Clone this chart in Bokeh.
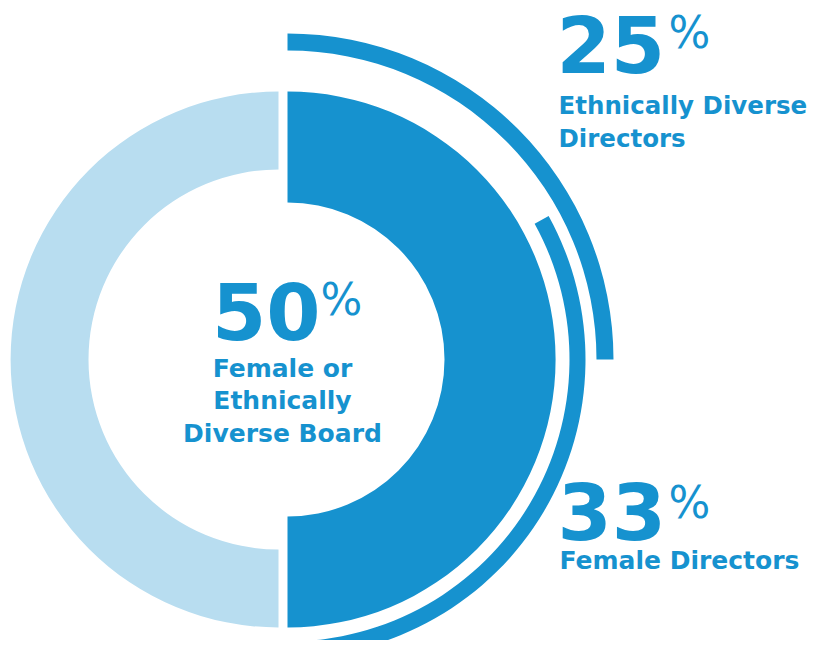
import math
from bokeh.plotting import figure
from bokeh.models import Range1d
from bokeh.core.properties import value
from bokeh.embed import file_html
from bokeh.resources import INLINE

# ---- data ----
metrics = ["Female or Ethnically Diverse Board", "Ethnically Diverse Directors", "Female Directors"]
percents = [50, 25, 33]
big_labels = ["50", "25", "33"]
center_lines = ["Female or", "Ethnically", "Diverse Board"]
ethnic_lines = ["Ethnically Diverse", "Directors"]
female_lines = ["Female Directors"]

DARK = "#1692CF"
LIGHT = "#B8DDF0"
FONT = value("DejaVu Sans")

W, H = 810, 640
p = figure(width=W, height=H, x_range=Range1d(0, W), y_range=Range1d(-H, 0),
           output_backend="svg", toolbar_location=None,
           x_axis_location=None, y_axis_location=None, min_border=0)
p.grid.visible = False
p.outline_line_color = None
p.background_fill_color = "white"
p.border_fill_color = "white"

cy = -359
cx_dark, cx_light = 287, 278
top = math.pi / 2
bottom = -math.pi / 2

board = percents[0] / 100.0
ethnic = percents[1] / 100.0
female = percents[2] / 100.0

# main donut halves
p.annular_wedge(x=[cx_light], y=[cy], inner_radius=190, outer_radius=268,
                start_angle=[top], end_angle=[top + 2 * math.pi * (1 - board)],
                fill_color=LIGHT, line_color=None)
p.annular_wedge(x=[cx_dark], y=[cy], inner_radius=157, outer_radius=268,
                start_angle=[top - 2 * math.pi * board], end_angle=[top],
                fill_color=DARK, line_color=None)

# outer arcs
p.annular_wedge(x=[cx_dark], y=[cy], inner_radius=309, outer_radius=326,
                start_angle=[top - 2 * math.pi * ethnic], end_angle=[top],
                fill_color=DARK, line_color=None)
p.annular_wedge(x=[cx_dark], y=[cy], inner_radius=282, outer_radius=298,
                start_angle=[bottom], end_angle=[bottom + 2 * math.pi * female],
                fill_color=DARK, line_color=None)

# big numbers
p.text(x=[320], y=[-310], text=[big_labels[0]], text_font=FONT, text_font_style="bold",
       text_font_size="78px", text_color=DARK, text_align="right", text_baseline="alphabetic")
p.text(x=[556, 557], y=[-43, -510], text=[big_labels[1], big_labels[2]], text_font=FONT,
       text_font_style="bold", text_font_size="78px", text_color=DARK,
       text_align="left", text_baseline="alphabetic")

# percent signs
p.text(x=[320, 668, 668], y=[-299, -32, -502], text=["%", "%", "%"], text_font=FONT,
       text_font_size="44px", text_color=DARK, text_align="left", text_baseline="alphabetic")

# labels
p.text(x=[282] * 3, y=[-368, -400, -433], text=center_lines, text_font=FONT,
       text_font_style="bold", text_font_size="25px", text_color=DARK,
       text_align="center", text_baseline="alphabetic")
p.text(x=[558, 558], y=[-105, -138], text=ethnic_lines, text_font=FONT,
       text_font_style="bold", text_font_size="24.5px", text_color=DARK,
       text_align="left", text_baseline="alphabetic")
p.text(x=[559], y=[-560], text=female_lines, text_font=FONT,
       text_font_style="bold", text_font_size="25px", text_color=DARK,
       text_align="left", text_baseline="alphabetic")

open("out.html", "w").write(file_html(p, INLINE))
